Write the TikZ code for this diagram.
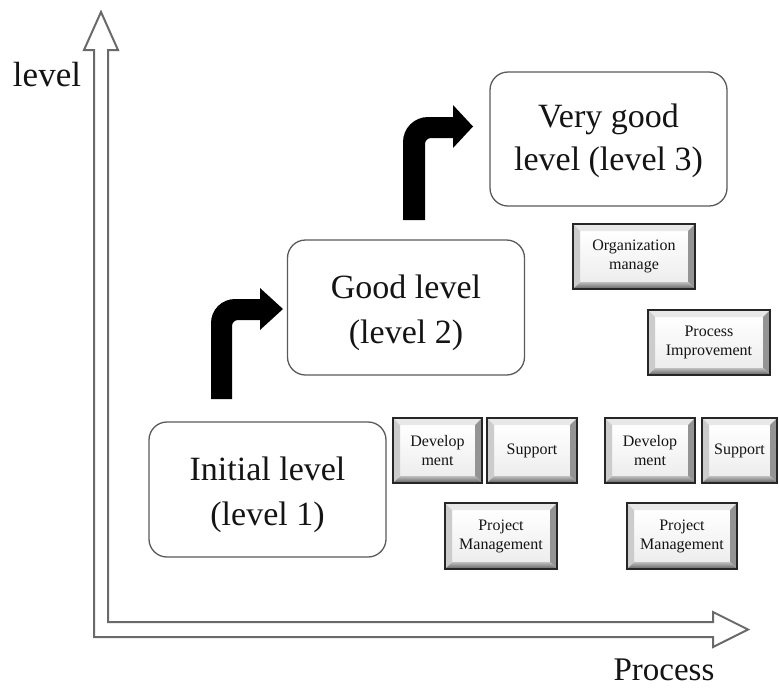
\documentclass[tikz,border=0pt]{standalone}
\usepackage{fontspec}
\setmainfont{Liberation Serif}
\usetikzlibrary{calc}
\definecolor{axisgray}{HTML}{6A6A6A}
\definecolor{boxgray}{HTML}{5A5A5A}
\definecolor{inkgray}{HTML}{141414}
\begin{document}
\begin{tikzpicture}[x=1pt,y=-1pt,
  levelbox/.style={draw=boxgray, line width=1.3pt, fill=white, rounded corners=18pt,
    minimum width=237pt, minimum height=135pt},
  leveltext/.style={align=center, text=inkgray, inner sep=0pt,
    font=\fontsize{34}{45}\selectfont},
  bevelbtn/.style={draw=black!85, line width=1.5pt, inner sep=0pt, align=center,
    text=inkgray, font=\fontsize{16}{19}\selectfont,
    path picture={
      \coordinate (pNW) at (path picture bounding box.north west);
      \coordinate (pNE) at (path picture bounding box.north east);
      \coordinate (pSW) at (path picture bounding box.south west);
      \coordinate (pSE) at (path picture bounding box.south east);
      \coordinate (qNW) at ([shift={(7pt,-7pt)}]pNW);
      \coordinate (qNE) at ([shift={(-7pt,-7pt)}]pNE);
      \coordinate (qSW) at ([shift={(7pt,7pt)}]pSW);
      \coordinate (qSE) at ([shift={(-7pt,7pt)}]pSE);
      \shade[top color=white, bottom color=black!7] (qNW) rectangle (qSE);
      \fill[black!9] (pNW) -- (pNE) -- (qNE) -- (qNW) -- cycle;
      \fill[black!20] (pNW) -- (qNW) -- (qSW) -- (pSW) -- cycle;
      \fill[black!42] (pNE) -- (pSE) -- (qSE) -- (qNE) -- cycle;
      \shade[top color=black!25, bottom color=black!62] (pSW) -- (qSW) -- (qSE) -- (pSE) -- cycle;
    }},
  axislabel/.style={anchor=base, text=inkgray}
]
\useasboundingbox (0,0) rectangle (779,694);

% hollow axes: level upwards, process to the right
\draw[axisgray, line width=2pt, fill=white, line join=miter]
  (108,50) -- (118,50) -- (101,12) -- (84,50) -- (94,50) -- (94,637)
  -- (713,637) -- (713,647) -- (748,629.5) -- (713,612) -- (713,622)
  -- (108,622) -- cycle;
\node[axislabel, font=\fontsize{35}{40}\selectfont] (ylab) at (47,86) {level};
\node[axislabel, font=\fontsize{33}{38}\selectfont] (xlab) at (664,680) {Process};

% maturity levels
\node[levelbox] (l1) at (267.5,489.5) {};
\node[leveltext] (l1t) at ([yshift=-5pt]l1.center) {Initial level\\(level 1)};
\node[levelbox] (l2) at (406,307.5) {};
\node[leveltext] (l2t) at ([yshift=-5pt]l2.center) {Good level\\(level 2)};
\node[levelbox, minimum height=134pt] (l3) at (608.5,139) {};
\node[leveltext, font=\fontsize{34}{43}\selectfont] (l3t) at ([yshift=-2pt]l3.center) {Very good\\level (level 3)};

% bent arrows between levels
\fill[black] (211,399) -- (211,323) .. controls (211,309.75) and (221.75,299) .. (235,299)
  -- (260,299) -- (260,288) -- (283,309) -- (260,330) -- (260,320) -- (238,320)
  .. controls (234.7,320) and (232,322.7) .. (232,326) -- (232,399) -- cycle;
\fill[black] (403,220) -- (403,142) .. controls (403,128.2) and (414.2,117) .. (428,117)
  -- (453,117) -- (453,105) -- (473,126.5) -- (453,148) -- (453,138) -- (431,138)
  .. controls (427.7,138) and (425,140.7) .. (425,144) -- (425,220) -- cycle;

% activity buttons
\node[bevelbtn, minimum width=89pt, minimum height=65pt] (dev1) at (437.5,450.5) {Develop\\ment};
\node[bevelbtn, minimum width=90pt, minimum height=65pt] (sup1) at (532,450.5) {Support};
\node[bevelbtn, minimum width=112pt, minimum height=66pt] (pm1) at (501,536) {Project\\Management};
\node[bevelbtn, minimum width=90pt, minimum height=65pt] (dev2) at (650,450.5) {Develop\\ment};
\node[bevelbtn, minimum width=75pt, minimum height=65pt] (sup2) at (739.5,450.5) {Support};
\node[bevelbtn, minimum width=110pt, minimum height=66pt] (pm2) at (682,536) {Project\\Management};
\node[bevelbtn, minimum width=122pt, minimum height=65pt] (org) at (634,256.5) {Organization\\manage};
\node[bevelbtn, minimum width=122pt, minimum height=65pt] (imp) at (709,342.5) {Process\\Improvement};
\end{tikzpicture}
\end{document}
